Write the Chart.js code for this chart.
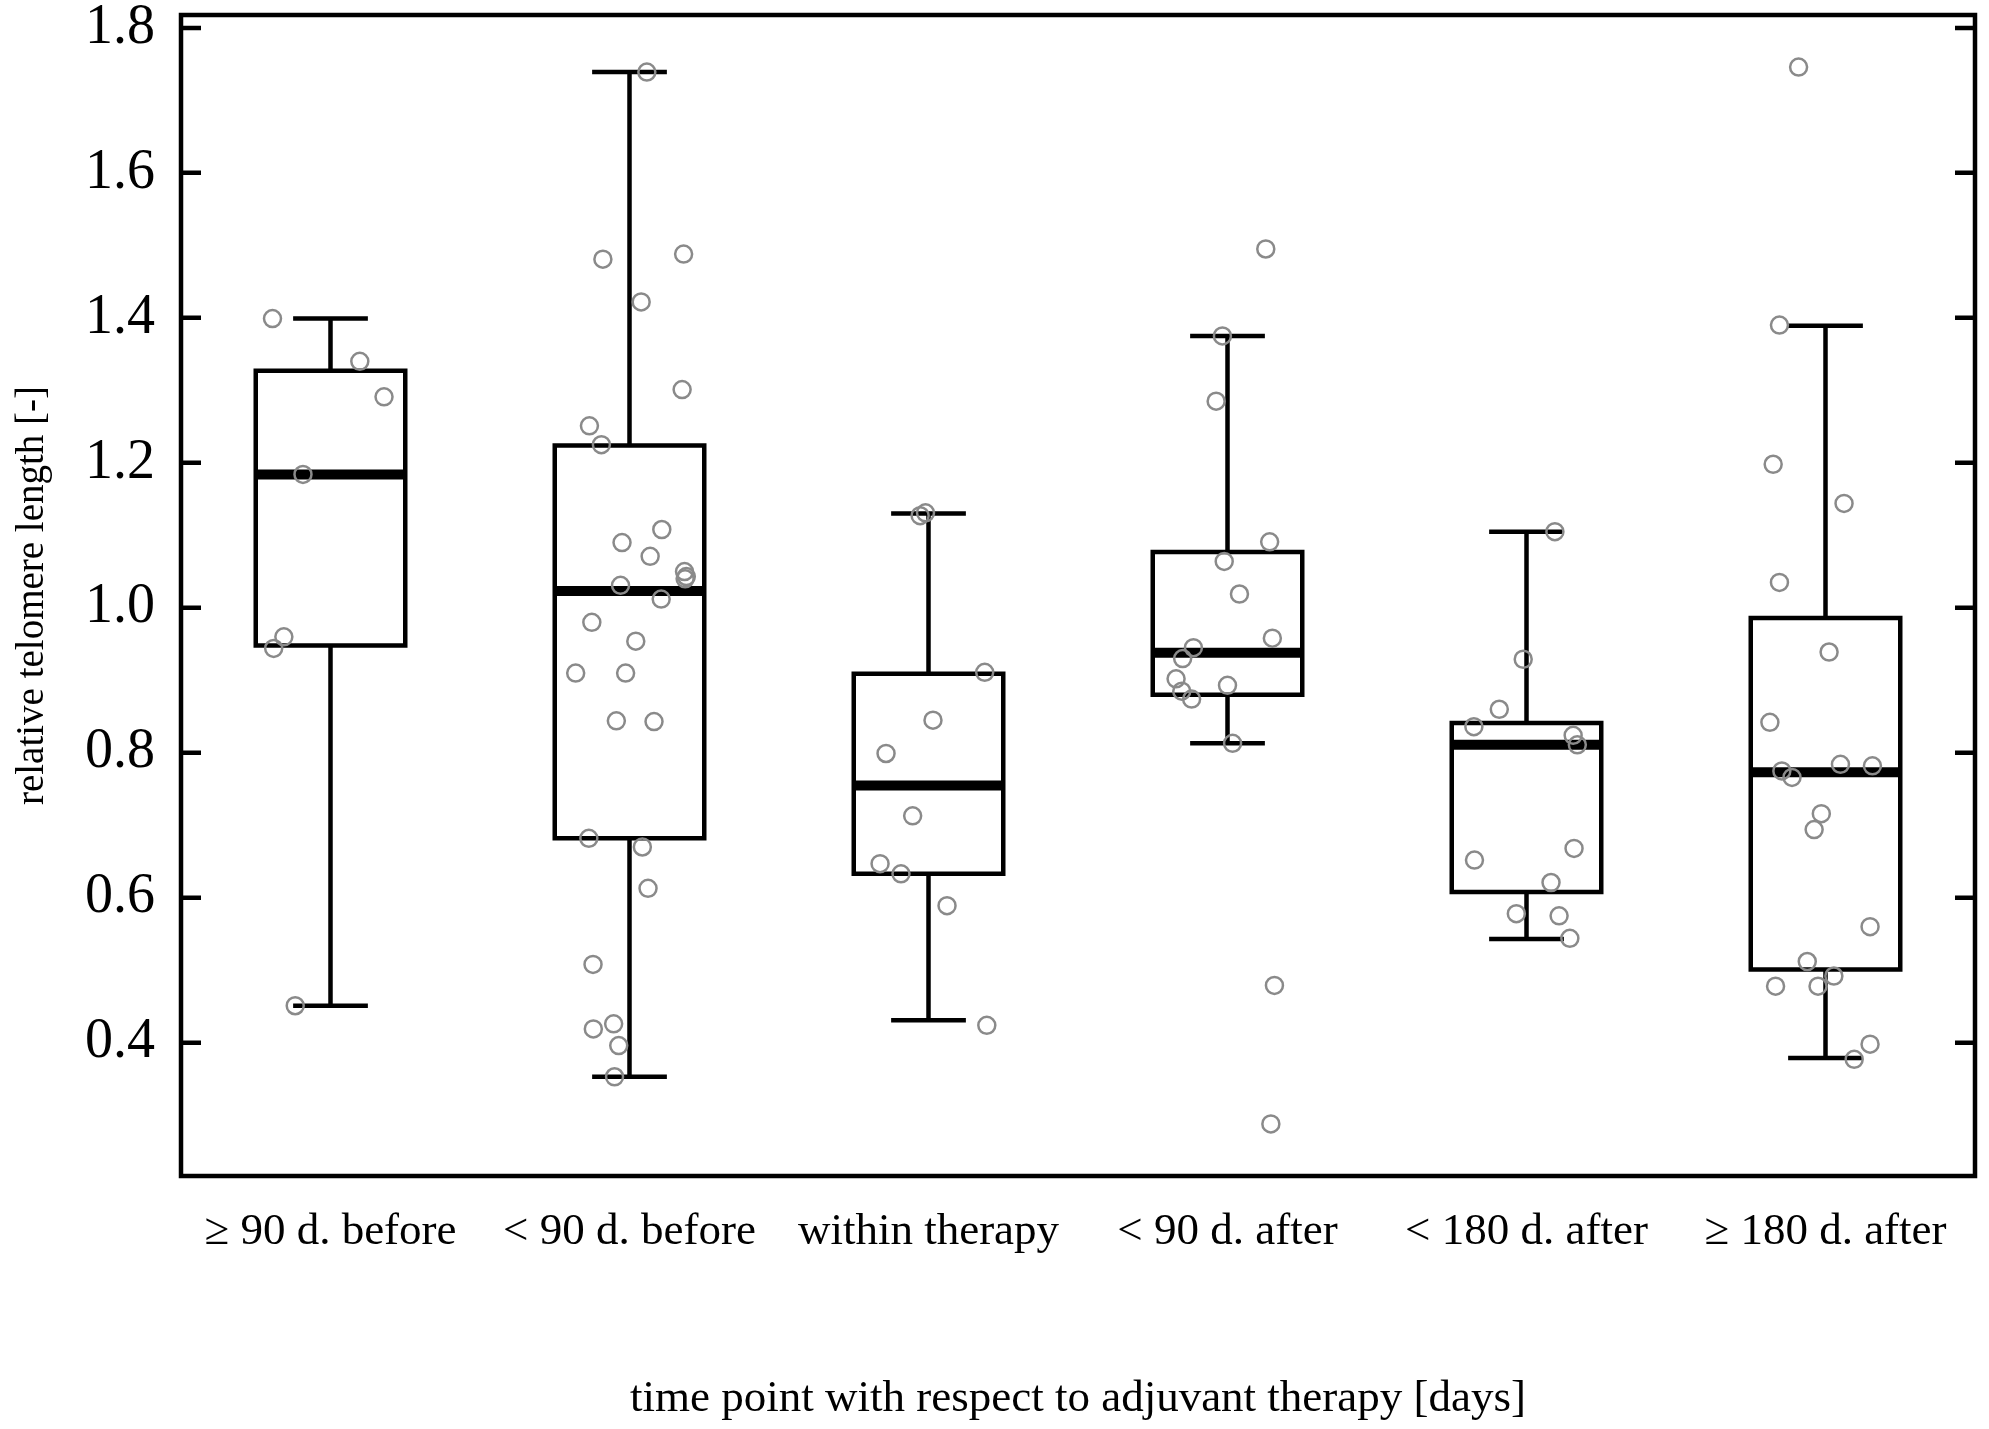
<!DOCTYPE html>
<html>
<head>
<meta charset="utf-8">
<script src="https://cdn.jsdelivr.net/npm/chart.js@4.4.1/dist/chart.umd.min.js"></script>
<style>
  html, body { margin: 0; padding: 0; background: #ffffff; }
  #wrap { width: 1989px; height: 1429px; position: relative; }
</style>
</head>
<body>
<div id="wrap"><canvas id="c"></canvas></div>
<script>
// ---------------- data ----------------
const categories = ["\u2265 90 d. before", "< 90 d. before", "within therapy", "< 90 d. after", "< 180 d. after", "\u2265 180 d. after"];
const yTickValues = [0.4, 0.6, 0.8, 1.0, 1.2, 1.4, 1.6, 1.8];

const whiskerLow  = [0.451, 0.353, 0.431, 0.813, 0.543, 0.379];
const quartile1   = [0.948, 0.682, 0.633, 0.880, 0.608, 0.501];
const medians     = [1.184, 1.023, 0.755, 0.938, 0.811, 0.773];
const quartile3   = [1.327, 1.224, 0.909, 1.077, 0.841, 0.986];
const whiskerHigh = [1.399, 1.739, 1.130, 1.375, 1.105, 1.389];

const pointsG1 = [1.399, 1.340, 1.291, 1.184, 0.960, 0.944, 0.451];
const jitterG1 = [-0.194, 0.098, 0.179, -0.092, -0.156, -0.190, -0.118];

const pointsG2 = [1.739, 1.481, 1.488, 1.422, 1.301, 1.251, 1.225, 1.108, 1.090, 1.071, 1.050, 1.043, 1.040, 1.031, 1.012, 0.980, 0.954, 0.910, 0.910, 0.844, 0.843, 0.682, 0.670, 0.613, 0.508, 0.419, 0.426, 0.396, 0.353];
const jitterG2 = [0.058, -0.089, 0.181, 0.039, 0.176, -0.134, -0.094, 0.108, -0.025, 0.069, 0.184, 0.190, 0.186, -0.030, 0.106, -0.126, 0.021, -0.180, -0.013, -0.044, 0.082, -0.136, 0.043, 0.062, -0.122, -0.121, -0.053, -0.036, -0.050];

const pointsG3 = [1.131, 1.127, 0.911, 0.845, 0.799, 0.713, 0.647, 0.633, 0.589, 0.424];
const jitterG3 = [-0.010, -0.028, 0.188, 0.015, -0.142, -0.053, -0.162, -0.092, 0.062, 0.195];

const pointsG4 = [1.495, 1.375, 1.285, 1.091, 1.064, 1.019, 0.958, 0.945, 0.930, 0.902, 0.885, 0.874, 0.893, 0.813, 0.479, 0.288];
const jitterG4 = [0.128, -0.017, -0.038, 0.141, -0.011, 0.040, 0.150, -0.114, -0.150, -0.172, -0.153, -0.120, 0.000, 0.017, 0.157, 0.145];

const pointsG5 = [1.105, 0.929, 0.860, 0.836, 0.824, 0.811, 0.668, 0.652, 0.621, 0.578, 0.575, 0.544];
const jitterG5 = [0.095, -0.011, -0.091, -0.176, 0.156, 0.170, 0.159, -0.174, 0.082, -0.034, 0.109, 0.145];

const pointsG6 = [1.746, 1.390, 1.198, 1.144, 1.035, 0.939, 0.842, 0.775, 0.766, 0.784, 0.782, 0.716, 0.694, 0.560, 0.512, 0.492, 0.478, 0.478, 0.398, 0.377];
const jitterG6 = [-0.090, -0.154, -0.175, 0.062, -0.154, 0.012, -0.186, -0.146, -0.112, 0.050, 0.157, -0.014, -0.038, 0.149, -0.061, 0.028, -0.025, -0.167, 0.149, 0.096];

const allPoints = [pointsG1, pointsG2, pointsG3, pointsG4, pointsG5, pointsG6];
const allJitter = [jitterG1, jitterG2, jitterG3, jitterG4, jitterG5, jitterG6];

const yTitle = "relative telomere length [-]";
const xTitle = "time point with respect to adjuvant therapy [days]";

// ---------------- build ----------------
const scatterData = [];
allPoints.forEach((vals, i) => {
  vals.forEach((v, j) => scatterData.push({ x: i + 1 + allJitter[i][j], y: v }));
});

const FONT = "'Liberation Serif', 'Times New Roman', serif";

const bgPlugin = {
  id: 'bg',
  beforeDraw(chart) {
    const ctx = chart.ctx;
    ctx.save();
    ctx.fillStyle = '#ffffff';
    ctx.fillRect(0, 0, chart.width, chart.height);
    ctx.restore();
  }
};

const boxPlugin = {
  id: 'boxes',
  beforeDatasetsDraw(chart) {
    const ctx = chart.ctx;
    const xs = chart.scales.x, ys = chart.scales.y;
    ctx.save();
    ctx.strokeStyle = '#000000';
    ctx.lineCap = 'butt';
    ctx.lineJoin = 'miter';
    categories.forEach((c, i) => {
      const xc = xs.getPixelForValue(i + 1);
      const xl = xs.getPixelForValue(i + 1 - 0.25);
      const xr = xs.getPixelForValue(i + 1 + 0.25);
      const cl = xs.getPixelForValue(i + 1 - 0.125);
      const cr = xs.getPixelForValue(i + 1 + 0.125);
      const yLo = ys.getPixelForValue(whiskerLow[i]);
      const yQ1 = ys.getPixelForValue(quartile1[i]);
      const yMed = ys.getPixelForValue(medians[i]);
      const yQ3 = ys.getPixelForValue(quartile3[i]);
      const yHi = ys.getPixelForValue(whiskerHigh[i]);
      ctx.lineWidth = 4.5;
      ctx.beginPath();
      ctx.moveTo(xc, yQ3); ctx.lineTo(xc, yHi);
      ctx.moveTo(xc, yQ1); ctx.lineTo(xc, yLo);
      ctx.moveTo(cl, yHi); ctx.lineTo(cr, yHi);
      ctx.moveTo(cl, yLo); ctx.lineTo(cr, yLo);
      ctx.stroke();
      ctx.beginPath();
      ctx.rect(xl, yQ3, xr - xl, yQ1 - yQ3);
      ctx.stroke();
      ctx.lineWidth = 10;
      ctx.beginPath();
      ctx.moveTo(xl, yMed); ctx.lineTo(xr, yMed);
      ctx.stroke();
    });
    ctx.restore();
  },
  afterDraw(chart) {
    const ctx = chart.ctx;
    const a = chart.chartArea;
    const ys = chart.scales.y;
    ctx.save();
    ctx.strokeStyle = '#000000';
    ctx.lineWidth = 4.5;
    ctx.strokeRect(a.left, a.top, a.right - a.left, a.bottom - a.top);
    ctx.beginPath();
    yTickValues.forEach(v => {
      const y = ys.getPixelForValue(v);
      ctx.moveTo(a.left, y); ctx.lineTo(a.left + 20, y);
      ctx.moveTo(a.right, y); ctx.lineTo(a.right - 20, y);
    });
    ctx.stroke();
    ctx.restore();
  }
};

function zeroPad(scale) {
  scale.paddingTop = 0; scale.paddingBottom = 0;
  scale.paddingLeft = 0; scale.paddingRight = 0;
}

new Chart(document.getElementById('c'), {
  type: 'scatter',
  data: {
    datasets: [{
      data: scatterData,
      pointStyle: 'circle',
      pointRadius: 8.5,
      pointHoverRadius: 8.5,
      pointBorderWidth: 2.5,
      pointBorderColor: '#8a8a8a',
      pointBackgroundColor: 'rgba(0,0,0,0)'
    }]
  },
  options: {
    responsive: true,
    maintainAspectRatio: false,
    devicePixelRatio: 1,
    animation: false,
    events: [],
    layout: { padding: { top: 15, right: 14, left: 0, bottom: 0 } },
    plugins: { legend: { display: false }, tooltip: { enabled: false } },
    scales: {
      x: {
        type: 'linear',
        min: 0.5,
        max: 6.5,
        grid: { display: false },
        border: { display: false },
        afterBuildTicks(scale) { scale.ticks = categories.map((c, i) => ({ value: i + 1 })); },
        afterFit(scale) { scale.height = 253; zeroPad(scale); },
        ticks: {
          autoSkip: false,
          maxRotation: 0,
          minRotation: 0,
          padding: 21,
          color: '#000000',
          font: { family: FONT, size: 45 },
          callback: (v) => categories[Math.round(v) - 1]
        },
        title: {
          display: true,
          text: xTitle,
          color: '#000000',
          font: { family: FONT, size: 45 },
          padding: { top: 0, bottom: 3 }
        }
      },
      y: {
        type: 'linear',
        min: 0.2161,
        max: 1.8178,
        grid: { display: false },
        border: { display: false },
        afterBuildTicks(scale) { scale.ticks = yTickValues.map(v => ({ value: v })); },
        afterFit(scale) { scale.width = 181; zeroPad(scale); },
        ticks: {
          padding: 18,
          color: '#000000',
          font: { family: FONT, size: 56 },
          callback: (v) => Number(v).toFixed(1)
        },
        title: {
          display: true,
          text: yTitle,
          color: '#000000',
          font: { family: FONT, size: 39 },
          padding: { top: 9, bottom: 0 }
        }
      }
    }
  },
  plugins: [bgPlugin, boxPlugin]
});
</script>
</body>
</html>
